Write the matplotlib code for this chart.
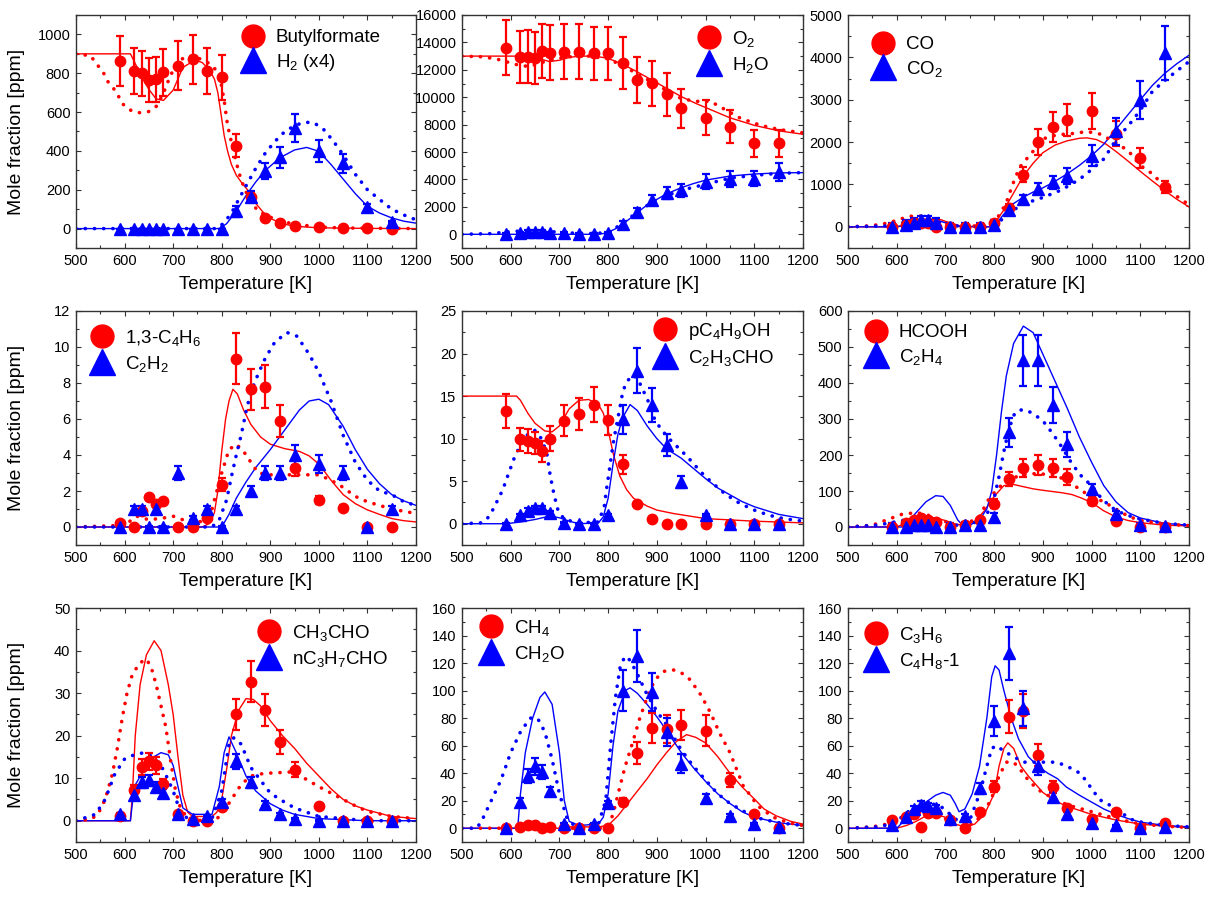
import numpy as np
import matplotlib
matplotlib.use("Agg")
import matplotlib.pyplot as plt
from matplotlib.lines import Line2D
from matplotlib.ticker import MultipleLocator

plt.rcParams['font.family'] = ['Liberation Sans', 'DejaVu Sans']
plt.rcParams['mathtext.fontset'] = 'custom'
plt.rcParams['mathtext.rm'] = 'Liberation Sans'
plt.rcParams['mathtext.it'] = 'Liberation Sans:italic'
plt.rcParams['mathtext.bf'] = 'Liberation Sans:bold'

# experimental temperatures [K]
T_exp = [590, 620, 635, 650, 665, 680, 710, 740, 770, 800, 830, 860, 890, 920, 950, 1000, 1050, 1100, 1150]

# ---- panel 1: butyl formate / H2 (x4)
bf = [863, 811, 799, 765, 768, 804, 839, 871, 811, 779, 427, 165, 55, 27, 15, 9, 3, 2, 0]
bf_err = [130, 120, 118, 115, 115, 120, 125, 125, 120, 115, 60, 25, 10, 5, 3, 2, 1, 1, 0]
h2 = [0, 0, 0, 0, 0, 0, 0, 0, 0, 0, 88, 165, 298, 367, 516, 400, 336, 113, 33]
h2_err = [0, 0, 0, 0, 0, 0, 0, 0, 0, 0, 30, 30, 42, 55, 72, 57, 48, 15, 5]
bf_solid = [(500, 900), (612, 900), (620, 860), (635, 782), (650, 717), (665, 668), (680, 660), (700, 713),
            (720, 830), (745, 868), (760, 855), (775, 815), (785, 770), (792, 700), (798, 600), (805, 480),
            (812, 400), (820, 330), (830, 275), (840, 240), (853, 200), (870, 130), (885, 85), (900, 52),
            (925, 25), (950, 12), (1000, 4), (1100, 1), (1200, 0)]
bf_dot = [(500, 900), (530, 890), (557, 800), (566, 756), (581, 710), (597, 640), (615, 605), (631, 597),
          (649, 602), (666, 631), (679, 691), (694, 786), (710, 860), (729, 890), (750, 880), (775, 850),
          (795, 800), (805, 660), (812, 533), (819, 456), (830, 340), (840, 250), (857, 148), (875, 90),
          (894, 65), (922, 36), (963, 19), (1000, 8), (1050, 3), (1200, 0)]
h2_solid = [(500, 0), (795, 0), (810, 25), (830, 90), (850, 170), (870, 240), (890, 300), (920, 365),
            (950, 405), (975, 418), (1000, 398), (1025, 330), (1050, 255), (1075, 180), (1100, 115),
            (1125, 80), (1150, 55), (1175, 38), (1200, 28)]
h2_dot = [(500, 0), (790, 0), (805, 30), (820, 80), (835, 150), (850, 220), (870, 310), (890, 390),
          (910, 450), (930, 500), (950, 530), (970, 548), (990, 545), (1010, 510), (1030, 450), (1050, 380),
          (1075, 280), (1100, 200), (1125, 150), (1150, 100), (1175, 70), (1200, 45)]

# ---- panel 2: O2 / H2O
o2 = [13617, 12912, 12960, 12840, 13375, 13250, 13325, 13325, 13200, 13200, 12520, 11260, 11015, 10210,
      9190, 8510, 7850, 6640, 6640]
o2_err = [2000, 1900, 1950, 1900, 2000, 2000, 2000, 2000, 1950, 1950, 1900, 1700, 1650, 1550, 1400, 1300,
          1200, 1000, 1000]
h2o = [0, 100, 200, 200, 200, 100, 100, 0, 0, 100, 780, 1650, 2500, 3000, 3200, 3850, 4050, 4050, 4550]
h2o_err = [100, 100, 100, 100, 100, 100, 100, 100, 100, 100, 200, 300, 350, 450, 500, 550, 600, 550, 650]
o2_solid = [(500, 13000), (640, 13000), (660, 12800), (680, 12600), (700, 12700), (720, 12900), (740, 13000),
            (770, 13000), (790, 12900), (810, 12700), (830, 12400), (860, 11850), (890, 11250), (920, 10650),
            (950, 10050), (980, 9550), (1000, 9250), (1050, 8500), (1100, 7950), (1150, 7550), (1200, 7300)]
o2_dot = [(500, 13000), (540, 12950), (570, 12800), (600, 12500), (620, 12300), (640, 12250), (660, 12500),
          (690, 12800), (720, 12950), (760, 13000), (800, 12800), (830, 12300), (860, 11700), (890, 11100),
          (920, 10500), (950, 9900), (980, 9700), (1010, 9700), (1040, 9100), (1070, 8500), (1100, 8100),
          (1130, 7800), (1160, 7600), (1200, 7400)]
h2o_solid = [(500, 0), (770, 0), (790, 50), (800, 150), (815, 400), (830, 750), (845, 1150), (860, 1600),
             (875, 2000), (890, 2350), (920, 2950), (950, 3400), (975, 3700), (1000, 3950), (1050, 4250),
             (1100, 4400), (1150, 4480), (1200, 4500)]
h2o_dot = [(500, 0), (560, 50), (600, 200), (640, 280), (680, 200), (720, 100), (760, 50), (790, 100),
           (810, 350), (830, 800), (850, 1350), (870, 1900), (900, 2500), (930, 2950), (960, 3300),
           (1000, 3650), (1050, 4100), (1100, 4300), (1150, 4450), (1200, 4500)]

# ---- panel 3: CO / CO2
co = [0, 50, 100, 100, 100, 0, 0, 0, 0, 100, 450, 1230, 2000, 2350, 2520, 2740, 2200, 1620, 950]
co_err = [50, 50, 50, 50, 50, 50, 50, 50, 50, 50, 80, 180, 300, 350, 380, 420, 300, 240, 140]
co2 = [0, 50, 100, 150, 150, 100, 0, 0, 0, 50, 400, 650, 900, 1050, 1200, 1680, 2250, 3000, 4100]
co2_err = [100, 100, 100, 100, 100, 100, 100, 100, 100, 100, 100, 110, 130, 150, 180, 250, 330, 450, 640]
co_solid = [(500, 0), (600, 0), (630, 80), (660, 170), (690, 170), (710, 90), (730, 20), (760, 0), (790, 0),
            (805, 150), (820, 400), (840, 800), (860, 1200), (880, 1500), (900, 1750), (925, 1930),
            (950, 2030), (975, 2090), (990, 2100), (1010, 2060), (1030, 1950), (1050, 1780), (1075, 1550),
            (1100, 1310), (1125, 1080), (1150, 860), (1175, 650), (1200, 470)]
co_dot = [(500, 0), (540, 20), (570, 60), (600, 150), (620, 230), (640, 270), (660, 230), (680, 160),
          (700, 80), (720, 30), (760, 20), (800, 120), (812, 300), (825, 570), (838, 1000), (852, 1400),
          (870, 1650), (885, 1850), (904, 2090), (928, 2170), (969, 2210), (989, 2250), (1015, 2200),
          (1040, 2050), (1075, 1800), (1100, 1450), (1125, 1250), (1150, 950), (1170, 760), (1200, 520)]
co2_solid = [(500, 0), (600, 0), (630, 60), (660, 130), (690, 130), (710, 60), (730, 10), (790, 0), (805, 80),
             (820, 300), (840, 550), (860, 700), (880, 820), (900, 920), (920, 1040), (950, 1250), (975, 1450),
             (1000, 1680), (1025, 1950), (1050, 2300), (1075, 2650), (1100, 3000), (1125, 3340), (1150, 3620),
             (1175, 3850), (1200, 4050)]
co2_dot = [(500, 0), (580, 20), (620, 120), (650, 170), (680, 130), (710, 40), (740, 0), (790, 0), (810, 120),
           (830, 300), (850, 480), (870, 580), (890, 650), (910, 740), (930, 830), (950, 950), (975, 1120),
           (1000, 1350), (1025, 1600), (1050, 2050), (1075, 2380), (1100, 2750), (1125, 3200), (1150, 3450),
           (1175, 3680), (1200, 3900)]

# ---- panel 4: 1,3-C4H6 / C2H2
c4h6 = [0.25, 0, 0.9, 1.64, 1.3, 1.43, 0, 0, 0.5, 2.35, 9.35, 7.65, 7.8, 5.9, 3.3, 1.5, 1.08, 0, 0]
c4h6_err = [0.05, 0.05, 0.1, 0.15, 0.15, 0.15, 0.05, 0.05, 0.1, 0.35, 1.4, 1.15, 1.2, 0.9, 0.45, 0.2, 0.15,
            0.05, 0.05]
c2h2 = [0, 1.0, 1.0, 0, 1.0, 0, 3.0, 0.5, 1.0, 0, 1.0, 2.0, 3.0, 3.0, 4.0, 3.5, 3.0, 0, 1.0]
c2h2_err = [0.05, 0.15, 0.15, 0.05, 0.15, 0.05, 0.4, 0.1, 0.15, 0.05, 0.15, 0.3, 0.4, 0.4, 0.55, 0.5, 0.4,
            0.05, 0.15]
c4h6_solid = [(500, 0), (760, 0), (775, 0.2), (785, 0.8), (792, 2.0), (800, 4.2), (808, 6.0), (815, 7.0),
              (823, 7.65), (832, 7.4), (845, 6.5), (860, 5.7), (880, 5.0), (900, 4.6), (930, 4.35), (960, 4.2),
              (980, 3.95), (1000, 3.5), (1025, 2.6), (1050, 1.8), (1075, 1.3), (1100, 0.95), (1125, 0.7),
              (1150, 0.47), (1175, 0.35), (1200, 0.28)]
c4h6_dot = [(500, 0), (600, 0.1), (625, 0.6), (650, 0.4), (680, 0.5), (700, 0.6), (730, 0.3), (760, 0.3),
            (780, 1.0), (790, 2.0), (800, 3.0), (815, 4.3), (830, 4.6), (845, 4.2), (860, 3.6), (875, 3.0),
            (900, 2.9), (950, 2.9), (1000, 2.9), (1025, 2.6), (1050, 2.2), (1075, 1.7), (1100, 1.4),
            (1150, 1.0), (1200, 0.75)]
c2h2_solid = [(500, 0), (800, 0), (815, 0.7), (830, 1.6), (850, 2.5), (870, 3.3), (900, 4.3), (930, 5.4),
              (960, 6.5), (980, 7.0), (1000, 7.1), (1020, 6.8), (1050, 5.6), (1075, 4.3), (1100, 3.2),
              (1125, 2.4), (1150, 1.8), (1175, 1.45), (1200, 1.2)]
c2h2_dot = [(500, 0), (780, 0), (795, 0.4), (810, 1.5), (820, 2.8), (830, 4.0), (840, 5.1), (850, 6.4),
            (860, 7.5), (875, 8.5), (890, 9.4), (910, 10.3), (935, 10.8), (955, 10.6), (980, 9.6), (1000, 8.6),
            (1025, 7.0), (1050, 5.1), (1075, 3.6), (1100, 2.6), (1125, 2.0), (1150, 1.8), (1175, 1.4),
            (1200, 1.2)]

# ---- panel 5: pC4H9OH / C2H3CHO
bu = [13.3, 9.9, 9.7, 9.5, 8.5, 10.0, 12.1, 12.9, 14.0, 12.2, 7.0, 2.3, 0.5, 0, 0, 0, 0, 0, 0]
bu_err = [2.0, 1.4, 1.4, 1.3, 1.2, 1.5, 1.8, 1.9, 2.1, 1.8, 1.1, 0.3, 0.1, 0, 0, 0, 0, 0, 0]
acr = [0, 1.0, 1.5, 1.8, 1.8, 1.3, 0.1, 0, 0, 1.0, 12.3, 18.0, 13.9, 9.3, 4.9, 1.0, 0, 0, 0]
acr_err = [0.05, 0.2, 0.3, 0.3, 0.3, 0.2, 0.05, 0.05, 0.05, 0.2, 1.7, 2.6, 2.0, 1.3, 0.7, 0.15, 0.05, 0.05, 0.05]
bu_solid = [(500, 15), (612, 15), (620, 14.5), (635, 13.0), (650, 11.8), (670, 10.9), (685, 10.8), (700, 11.5),
            (720, 13.5), (740, 14.5), (760, 14.6), (780, 14.0), (790, 13.0), (800, 11.0), (811, 8.1),
            (824, 5.6), (838, 4.0), (852, 3.0), (879, 2.1), (900, 1.6), (934, 1.2), (1000, 0.6), (1100, 0.3),
            (1200, 0.1)]
acr_solid = [(500, 0), (590, 0), (620, 0.2), (650, 0.5), (680, 0.9), (700, 0.7), (720, 0.3), (740, 0),
             (780, 0.1), (790, 0.8), (800, 3.0), (810, 7.0), (820, 10.5), (830, 12.5), (845, 14.0), (860, 13.3),
             (880, 11.5), (900, 10.0), (920, 8.8), (950, 7.7), (975, 6.5), (1000, 5.3), (1025, 4.2), (1050, 3.4),
             (1075, 2.6), (1100, 2.0), (1150, 1.1), (1200, 0.6)]
acr_dot = [(500, 0), (520, 0.05), (540, 0.1), (553, 0.7), (565, 1.8), (575, 3.0), (583, 3.9), (595, 5.8),
           (609, 8.0), (619, 9.1), (635, 10.5), (649, 11.0), (663, 10.0), (674, 8.3), (681, 5.7), (689, 3.4),
           (697, 1.6), (710, 0.5), (740, 0.1), (780, 0.2), (792, 2.0), (796, 3.8), (802, 6.1), (810, 9.3),
           (816, 11.2), (824, 13.6), (830, 15.5), (838, 16.7), (852, 17.5), (865, 16.5), (883, 14.3),
           (896, 12.2), (910, 11.0), (930, 9.7), (950, 8.6), (970, 7.4), (990, 6.1), (1010, 5.0), (1040, 3.5),
           (1070, 2.4), (1100, 1.6), (1130, 1.0), (1160, 0.6), (1200, 0.3)]

# ---- panel 6: HCOOH / C2H4
hcooh = [0, 10, 20, 25, 20, 15, 0, 5, 20, 65, 133, 163, 172, 164, 139, 73, 18, 0, 0]
hcooh_err = [3, 5, 5, 5, 5, 5, 3, 3, 5, 12, 20, 25, 27, 25, 22, 12, 5, 3, 3]
c2h4 = [0, 0, 5, 5, 5, 0, 0, 5, 5, 28, 263, 463, 463, 340, 230, 105, 35, 5, 3]
c2h4_err = [10, 10, 15, 15, 15, 10, 10, 10, 10, 10, 40, 70, 70, 50, 35, 15, 10, 5, 5]
hcooh_solid = [(500, 0), (600, 0), (620, 12), (650, 25), (680, 25), (700, 18), (720, 8), (740, 5), (760, 15),
               (780, 45), (800, 85), (820, 115), (840, 118), (860, 112), (880, 106), (900, 102), (940, 95),
               (960, 90), (980, 80), (1000, 68), (1025, 45), (1050, 28), (1075, 18), (1100, 12), (1150, 5),
               (1200, 3)]
hcooh_dot = [(500, 0), (550, 5), (570, 15), (590, 25), (610, 35), (640, 40), (660, 35), (680, 25), (700, 15),
             (720, 5), (740, 5), (770, 30), (790, 80), (810, 110), (830, 130), (850, 142), (870, 148), (890, 148),
             (920, 145), (950, 130), (980, 100), (1000, 85), (1025, 70), (1050, 50), (1075, 30), (1100, 18),
             (1150, 8), (1200, 4)]
c2h4_solid = [(500, 0), (610, 0), (620, 10), (640, 40), (660, 70), (680, 87), (695, 85), (710, 60), (725, 20),
              (735, 5), (750, 5), (770, 20), (785, 50), (795, 100), (805, 200), (815, 320), (825, 420),
              (840, 510), (860, 558), (880, 540), (900, 480), (920, 420), (950, 330), (975, 250), (1000, 180),
              (1025, 115), (1050, 70), (1075, 40), (1100, 25), (1150, 10), (1200, 5)]
c2h4_dot = [(500, 0), (560, 5), (580, 10), (600, 15), (620, 20), (640, 25), (660, 25), (680, 15), (700, 5),
            (740, 5), (780, 20), (800, 80), (810, 140), (820, 210), (830, 270), (840, 310), (850, 325),
            (865, 325), (880, 315), (900, 295), (920, 260), (940, 220), (960, 175), (980, 140), (1000, 115),
            (1020, 80), (1040, 55), (1060, 40), (1080, 30), (1100, 22), (1150, 10), (1200, 5)]

# ---- panel 7: CH3CHO / nC3H7CHO
ch3cho = [1.0, 7.3, 12.6, 14.0, 13.0, 8.7, 1.5, 0, 0, 3.2, 25.0, 32.7, 26.0, 18.6, 12.0, 3.5, 0, 0, 0]
ch3cho_err = [0.2, 1.0, 1.8, 2.0, 1.9, 1.2, 0.3, 0.1, 0.1, 0.5, 3.7, 4.8, 3.8, 2.8, 1.7, 0.5, 0.1, 0.1, 0.1]
c3h7cho = [1.5, 6.0, 9.0, 9.5, 8.0, 6.5, 1.5, 0.5, 1.0, 4.5, 14.0, 9.0, 4.0, 1.5, 0.5, 0, 0, 0, 0]
c3h7cho_err = [0.3, 0.8, 1.2, 1.3, 1.1, 0.9, 0.3, 0.2, 0.2, 0.6, 1.8, 1.2, 0.6, 0.3, 0.2, 0.1, 0.1, 0.1, 0.1]
ch3cho_solid = [(500, 0), (612, 0), (616, 6), (622, 20), (632, 32), (645, 39), (661, 42.3), (675, 40),
                (690, 32), (700, 25), (710, 15), (720, 6), (730, 2), (740, 1), (780, 1), (790, 2), (800, 5),
                (810, 12), (820, 20), (835, 26), (850, 28.7), (865, 28.5), (880, 27), (900, 23.5), (925, 20),
                (950, 17), (975, 13.5), (1000, 10.5), (1025, 7.5), (1050, 5.0), (1075, 3.5), (1100, 2.5),
                (1150, 1.0), (1200, 0.5)]
ch3cho_dot = [(500, 0), (530, 0.3), (545, 1.5), (560, 5), (575, 11), (585, 17), (595, 24), (605, 30),
              (615, 34), (630, 37), (645, 38), (655, 36), (665, 32), (675, 27), (685, 22), (695, 14), (705, 7),
              (715, 3), (730, 0.5), (760, 0), (790, 0.5), (800, 1.5), (820, 5), (840, 8.5), (860, 10.5),
              (880, 11), (900, 11.2), (950, 11.5), (970, 10), (1000, 8), (1025, 6.5), (1050, 5), (1075, 3.5),
              (1100, 2.2), (1150, 1.0), (1200, 0.5)]
c3h7cho_solid = [(500, 0), (612, 0), (620, 8), (640, 12), (660, 15), (675, 16), (690, 15.5), (700, 13),
                 (710, 8), (720, 3), (740, 1.5), (780, 1.5), (795, 8), (805, 16), (815, 19.7), (830, 16),
                 (850, 10.5), (870, 7), (900, 4), (925, 2.5), (950, 1.5), (1000, 0.5), (1100, 0), (1200, 0)]
c3h7cho_dot = [(500, 0), (540, 1.5), (560, 5), (580, 11), (600, 14.5), (620, 15.5), (640, 16), (660, 15),
               (680, 12), (700, 7), (715, 2), (730, 0.5), (780, 0.5), (800, 7), (815, 18), (825, 19.5),
               (840, 18), (860, 12.5), (880, 9.5), (900, 6.5), (920, 5), (950, 3), (975, 2), (1000, 1),
               (1050, 0.5), (1100, 0), (1200, 0)]

# ---- panel 8: CH4 / CH2O
ch4 = [0, 1, 2, 2, 0, 1, 0, 0, 0, 0.5, 19, 55, 73, 72, 75, 71, 35, 10, 0]
ch4_err = [0.5, 0.5, 0.5, 0.5, 0.5, 0.5, 0.5, 0.5, 0.5, 0.5, 3, 8, 11, 10, 11, 11, 5, 1.5, 0.5]
ch2o = [0, 19, 38, 45, 41, 27, 3, 0, 3, 18, 100, 125, 99, 70, 47, 22, 9, 3, 1]
ch2o_err = [1, 3, 5, 6, 5, 3, 1, 1, 1, 2, 15, 19, 14, 10, 7, 3, 1, 1, 1]
ch4_solid = [(500, 0), (700, 0), (720, 1), (780, 1), (800, 2), (820, 9), (840, 18), (860, 27), (880, 36),
             (900, 46), (920, 55), (940, 63), (961, 68), (980, 66), (1000, 62), (1025, 52), (1050, 40),
             (1075, 30), (1098, 22), (1120, 14), (1145, 9), (1175, 5), (1200, 3)]
ch4_dot = [(500, 0), (790, 0), (800, 2), (810, 10), (824, 30), (835, 45), (850, 62), (865, 80), (880, 95),
           (896, 108), (915, 114), (934, 115), (950, 113), (968, 108), (990, 97), (1010, 84), (1029, 69),
           (1050, 55), (1077, 31), (1108, 16), (1139, 8), (1170, 4), (1200, 2)]
ch2o_solid = [(500, 0), (612, 0), (615, 3), (620, 25), (630, 55), (645, 80), (660, 95), (670, 99), (685, 90),
              (700, 55), (710, 20), (720, 5), (740, 2), (780, 3), (790, 8), (800, 25), (810, 60), (820, 85),
              (835, 100), (845, 102), (860, 98), (880, 90), (900, 81), (920, 71), (950, 55), (975, 44),
              (1000, 34), (1025, 25), (1050, 18), (1075, 12), (1100, 8), (1150, 4), (1200, 2)]
ch2o_dot = [(500, 0), (530, 0), (540, 5), (560, 20), (580, 35), (600, 55), (620, 70), (640, 80), (655, 80),
            (670, 70), (685, 50), (700, 25), (715, 8), (730, 2), (780, 3), (795, 20), (805, 60), (815, 95),
            (825, 118), (835, 125), (845, 122), (860, 112), (880, 97), (900, 85), (920, 75), (950, 57),
            (975, 45), (1000, 35), (1025, 25), (1050, 18), (1100, 8), (1150, 4), (1200, 2)]

# ---- panel 9: C3H6 / C4H8-1
c3h6 = [6, 8, 10, 1, 11, 11, 6, 0, 12, 30, 81, 85, 53, 30, 15, 7, 12, 0, 4]
c3h6_err = [1, 1, 1.5, 0.5, 1.5, 1.5, 1, 0.5, 1.5, 4, 12, 12.5, 8, 4.5, 2, 1, 1.5, 0.5, 0.5]
c4h8 = [2, 8, 14, 17, 16, 15, 7, 9, 29, 78, 127, 87, 45, 23, 10, 4, 2, 0, 1]
c4h8_err = [0.5, 1, 2, 2.5, 2.5, 2, 1, 1.5, 4, 11, 19, 13, 6, 3.5, 1.5, 0.5, 0.5, 0.5, 0.5]
c3h6_solid = [(500, 0), (600, 0), (620, 2), (640, 5), (660, 9), (680, 10), (700, 8), (720, 3), (740, 1),
              (760, 3), (780, 10), (800, 25), (810, 45), (820, 58), (828, 62), (840, 58), (855, 45), (870, 38),
              (880, 34), (900, 26), (920, 21), (948, 16), (975, 13), (1000, 10), (1050, 6), (1100, 3),
              (1150, 1.5), (1200, 0.5)]
c3h6_dot = [(500, 0), (550, 1), (580, 3), (600, 6), (620, 9), (640, 11), (660, 12), (680, 10), (700, 7),
            (720, 3), (740, 1), (760, 4), (780, 12), (795, 22), (810, 38), (825, 48), (840, 48), (855, 42),
            (870, 35), (890, 28), (920, 22), (950, 17), (1000, 12), (1050, 7), (1100, 3), (1150, 1.5),
            (1200, 0.5)]
c4h8_solid = [(500, 0), (600, 0), (620, 7), (640, 13), (660, 19), (680, 24), (695, 26), (710, 24), (720, 18),
              (728, 12), (740, 14), (755, 25), (770, 45), (785, 80), (795, 110), (802, 118), (810, 115),
              (820, 100), (835, 80), (850, 65), (870, 52), (890, 45), (910, 40), (930, 36), (948, 30),
              (975, 24), (1000, 19), (1025, 14), (1051, 10), (1075, 7), (1100, 4.5), (1150, 2), (1200, 1)]
c4h8_dot = [(500, 0), (560, 1), (590, 3), (610, 8), (630, 14), (650, 17), (670, 18), (690, 16), (710, 10),
            (730, 4), (750, 6), (770, 25), (785, 45), (795, 58), (805, 60), (820, 56), (840, 52), (860, 48),
            (890, 48), (928, 48), (950, 45), (976, 40), (990, 34), (1003, 27), (1020, 20), (1047, 15),
            (1078, 7), (1092, 5), (1150, 2), (1200, 1)]

labels = [('Butylformate', 'H$_2$ (x4)'), ('O$_2$', 'H$_2$O'), ('CO', 'CO$_2$'),
          ('1,3-C$_4$H$_6$', 'C$_2$H$_2$'), ('pC$_4$H$_9$OH', 'C$_2$H$_3$CHO'), ('HCOOH', 'C$_2$H$_4$'),
          ('CH$_3$CHO', 'nC$_3$H$_7$CHO'), ('CH$_4$', 'CH$_2$O'), ('C$_3$H$_6$', 'C$_4$H$_8$-1')]

panels = [
    (bf, bf_err, h2, h2_err, bf_solid, bf_dot, h2_solid, h2_dot),
    (o2, o2_err, h2o, h2o_err, o2_solid, o2_dot, h2o_solid, h2o_dot),
    (co, co_err, co2, co2_err, co_solid, co_dot, co2_solid, co2_dot),
    (c4h6, c4h6_err, c2h2, c2h2_err, c4h6_solid, c4h6_dot, c2h2_solid, c2h2_dot),
    (bu, bu_err, acr, acr_err, bu_solid, None, acr_solid, acr_dot),
    (hcooh, hcooh_err, c2h4, c2h4_err, hcooh_solid, hcooh_dot, c2h4_solid, c2h4_dot),
    (ch3cho, ch3cho_err, c3h7cho, c3h7cho_err, ch3cho_solid, ch3cho_dot, c3h7cho_solid, c3h7cho_dot),
    (ch4, ch4_err, ch2o, ch2o_err, ch4_solid, ch4_dot, ch2o_solid, ch2o_dot),
    (c3h6, c3h6_err, c4h8, c4h8_err, c3h6_solid, c3h6_dot, c4h8_solid, c4h8_dot),
]

# y axis: (bottom, top, major, minor)
yaxes = [(-100, 1100, 200, 100), (-1000, 16000, 2000, 1000), (-500, 5000, 1000, 500),
         (-1, 12, 2, 1), (-2.5, 25, 5, 2.5), (-50, 600, 100, 50),
         (-5, 50, 10, 5), (-10, 160, 20, 10), (-10, 160, 20, 10)]

# layout in pixels
W, H = 1212, 897
cols = [(76, 416), (462, 803), (848, 1189)]
rows = [(15, 248), (311, 545), (608, 842)]
leg_px = [(253, 36), (709, 36), (883, 43), (102, 335), (665, 328), (876, 331), (269, 630), (491, 625), (876, 632)]

RED = '#ff0000'
BLUE = '#0000ff'
SPINE = '#333333'

fig = plt.figure(figsize=(W / 100, H / 100), dpi=100)

for i, (rv, re, bv, be, rs, rd, bs, bd) in enumerate(panels):
    r, c = divmod(i, 3)
    x0, x1 = cols[c]
    y0, y1 = rows[r]
    ax = fig.add_axes([x0 / W, 1 - y1 / H, (x1 - x0) / W, (y1 - y0) / H])

    for curve, col, ls in [(rs, RED, 'solid'), (bs, BLUE, 'solid'), (rd, RED, 'dot'), (bd, BLUE, 'dot')]:
        if curve is None:
            continue
        t, v = zip(*curve)
        if ls == 'solid':
            ax.plot(t, v, color=col, lw=1.0, zorder=2)
        else:
            ax.plot(t, v, color=col, lw=2.6, linestyle=(0, (0.05, 2.5)), dash_capstyle='round', zorder=2)

    ax.errorbar(T_exp, rv, yerr=re, fmt='o', color=RED, ms=7.5, elinewidth=1.6, capsize=3,
                capthick=1.6, zorder=4)
    ax.errorbar(T_exp, bv, yerr=be, fmt='^', color=BLUE, ms=8.5, elinewidth=1.6, capsize=3,
                capthick=1.6, zorder=4)

    lo, hi, maj, mnr = yaxes[i]
    ax.set_xlim(500, 1200)
    ax.set_ylim(lo, hi)
    ax.xaxis.set_major_locator(MultipleLocator(100))
    ax.xaxis.set_minor_locator(MultipleLocator(50))
    ax.yaxis.set_major_locator(MultipleLocator(maj))
    ax.yaxis.set_minor_locator(MultipleLocator(mnr))
    ax.tick_params(which='both', direction='in', top=True, right=True, labelsize=10.5, color=SPINE, pad=4)
    ax.tick_params(which='major', length=3.5, width=0.8)
    ax.tick_params(which='minor', length=2, width=0.8)
    for s in ax.spines.values():
        s.set_color(SPINE)
        s.set_linewidth(1.0)
    ax.set_xlabel('Temperature [K]', fontsize=13.5, labelpad=6)

    # legend
    hx, hy = leg_px[i]
    lx = (hx - 11 - x0) / (x1 - x0)
    ly = 1 - (hy - 7 - y0) / (y1 - y0)
    handles = [Line2D([], [], ls='none', marker='o', color=RED, ms=16.5),
               Line2D([], [], ls='none', marker='^', color=BLUE, ms=19)]
    ax.legend(handles, labels[i], loc='upper left', bbox_to_anchor=(lx, ly), frameon=False, fontsize=13.5,
              borderpad=0, borderaxespad=0, handlelength=1.2, handletextpad=0.6, labelspacing=0.3)

for r in range(3):
    y0, y1 = rows[r]
    fig.text(17 / W, 1 - (y0 + y1) / 2 / H, 'Mole fraction [ppm]', rotation=90, ha='center', va='center',
             fontsize=14)

fig.savefig('out.png', dpi=100)
